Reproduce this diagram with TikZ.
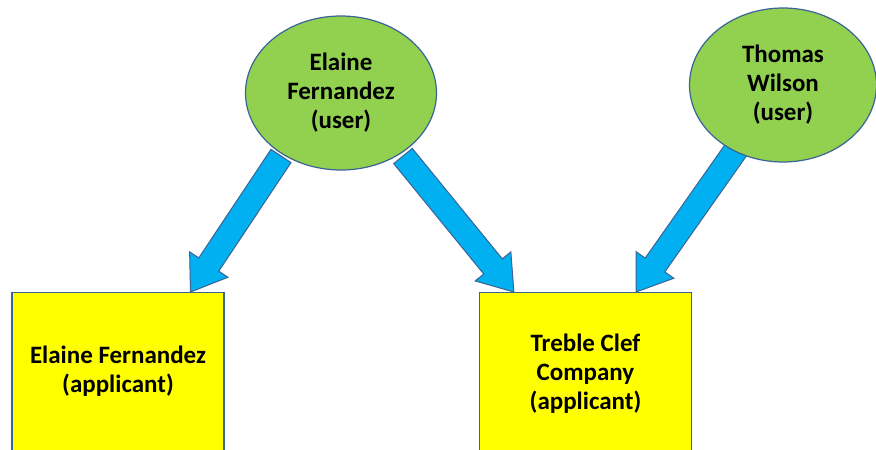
\documentclass[tikz,border=0pt]{standalone}
\usepackage{fontspec}
\setmainfont{Carlito}
\usetikzlibrary{shapes.geometric,calc}

\definecolor{usergreen}{HTML}{92D050}
\definecolor{appyellow}{HTML}{FFFF00}
\definecolor{arrowblue}{HTML}{00B0F0}
\definecolor{edgeblue}{HTML}{3B6396}

\tikzset{
  userbubble/.style={ellipse, draw=edgeblue, line width=1.2pt, fill=usergreen,
    minimum width=191pt, minimum height=154pt, inner sep=0pt,
    align=center, font=\bfseries\fontsize{25}{29}\selectfont},
  appbox/.style={rectangle, draw=edgeblue, line width=1.2pt, fill=appyellow,
    minimum width=212pt, minimum height=180pt, anchor=north, inner sep=0pt},
  boxtext/.style={align=center, font=\bfseries\fontsize{25}{29}\selectfont},
  blockstyle/.style={fill=arrowblue, draw=edgeblue, line width=1pt, line join=miter},
}

% wide block arrow from #1 to tip #2; #3 is a prefix for helper coordinates
\newcommand{\blockarrow}[3]{%
  \coordinate (#3h) at ($(#2)!33pt!(#1)$);
  \filldraw[blockstyle]
    ($(#1)!12pt!90:(#2)$) -- ($(#3h)!12pt!90:(#2)$) -- ($(#3h)!23pt!90:(#2)$)
    -- (#2)
    -- ($(#3h)!23pt!-90:(#2)$) -- ($(#3h)!12pt!-90:(#2)$) -- ($(#1)!12pt!-90:(#2)$)
    -- cycle;
}

\begin{document}
\begin{tikzpicture}[x=1pt, y=-1pt]
  \useasboundingbox (0,0) rectangle (876,450);
  \clip (0,0) rectangle (876,450);

  % applicant boxes (they run past the lower edge)
  \node[appbox] (b1) at (118,292) {};
  \node[appbox] (b2) at (585.5,292) {};
  \node[boxtext] (b1text) at ($(b1.north)+(0,79)$) {Elaine Fernandez\\(applicant)};
  \node[boxtext] (b2text) at ($(b2.north)+(0,82)$) {Treble Clef\\Company\\(applicant)};

  % centres of the user bubbles
  \path (341,93) coordinate (e1c) (783,85) coordinate (e2c);

  % arrow end points on the top edges of the boxes
  \coordinate (t1) at ($(b1.north west)!0.84!(b1.north east)$);
  \coordinate (t2) at ($(b2.north west)!0.164!(b2.north east)$);
  \coordinate (t3) at ($(b2.north west)!0.737!(b2.north east)$);

  % arrow start points inside the bubbles
  \coordinate (s1) at ($(e1c)+(-60,63)$);
  \coordinate (s2) at ($(e1c)+(62,63)$);
  \coordinate (s3) at ($(e2c)+(-45,62)$);

  \blockarrow{s1}{t1}{a1}
  \blockarrow{s2}{t2}{a2}
  \blockarrow{s3}{t3}{a3}

  % user bubbles drawn over the arrow tails
  \node[userbubble] (e1) at (e1c) {Elaine\\Fernandez\\(user)};
  \node[userbubble, minimum width=187pt] (e2) at (e2c) {Thomas\\Wilson\\(user)};
\end{tikzpicture}
\end{document}
